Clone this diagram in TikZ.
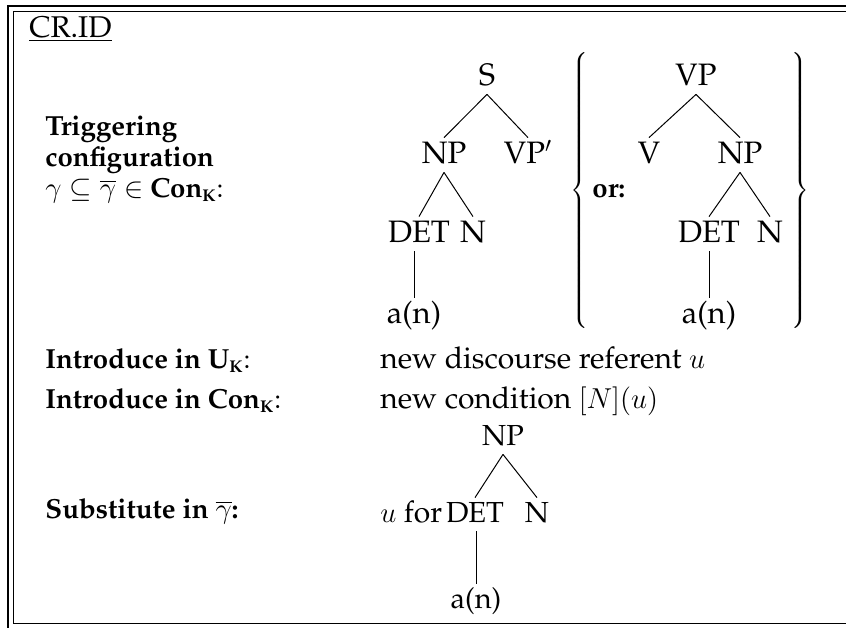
\documentclass[tikz,border=0pt]{standalone}
\usepackage[T1]{fontenc}
\renewcommand{\rmdefault}{ppl}
\newcommand{\subK}{$_{\mbox{\fontsize{8.5}{10}\selectfont\bfseries K}}$}

\begin{document}
\begin{tikzpicture}[
				x=0.5pt, y=-0.5pt,
				font=\fontsize{15}{15.5}\selectfont,
				cat/.style = {anchor=base, inner sep=2pt, text height=10.5pt, text depth=2.5pt, font=\fontsize{15.5}{17}\selectfont},
				smallcat/.style = {cat, text height=10pt, font=\fontsize{14.5}{16}\selectfont},
				lbl/.style = {anchor=base west, inner sep=0pt},
				head/.style = {lbl, font=\fontsize{13.8}{15.5}\selectfont},
				branch/.style = {line width=0.5pt},
				bigbrace/.style = {inner sep=0pt, font=\fontsize{20}{24}\selectfont},
			]
			\path[use as bounding box] (0,0) rectangle (846,628);
			\draw[line width=0.7pt] (846,6) -- (8,6) -- (8,628);
			\draw[line width=0.5pt] (846,11.5) -- (13,11.5) -- (13,623) -- (846,623);

			\node[lbl] (title) at (29,37) {\underline{CR.ID}};
			\node[head, align=left] (trigger) at (45,197) {\textbf{Triggering}\\ \textbf{configuration}\\ $\gamma \subseteq \overline{\gamma} \in$ \textbf{Con}\subK:};
			\node[head] (introU) at (45,368) {\textbf{Introduce in U}\subK:};
			\node[head] (introCon) at (45,408) {\textbf{Introduce in Con}\subK:};
			\node[head] (subst) at (45,518) {\textbf{Substitute in $\overline{\gamma}$:}};
			\node[lbl] (newref) at (380,368) {new discourse referent $u$};
			\node[lbl] (newcond) at (380,408) {new condition $[N](u)$};
			\node[lbl] (ufor) at (380,522) {$u$ for};

			\node[cat] (S) at (487,85) {S};
			\node[cat] (NPa) at (444,163) {NP};
			\node[cat] (VPp) at (528,163) {VP$'$};
			\node[cat] (DETa) at (419,242) {DET};
			\node[cat] (Na) at (473,242) {N};
			\node[cat] (ana) at (414,323) {a(n)};
			\draw[branch] (S.south) -- (NPa.north);
			\draw[branch] (S.south) -- (VPp.north);
			\draw[branch] (NPa.south) -- (DETa.north);
			\draw[branch] (NPa.south) -- (Na.north);
			\draw[branch] (ana.north |- DETa.south) -- (ana.north);

			\node[bigbrace] (lbrace) at (581,190) {$\left\{\vcenter{\hrule height 143pt width 0pt}\right.$};
			\node[head] (or) at (592,197) {\textbf{or:}};
			\node[bigbrace] (rbrace) at (799,190) {$\left.\vcenter{\hrule height 143pt width 0pt}\right\}$};

			\node[cat] (VP) at (696,85) {VP};
			\node[cat] (V) at (649,163) {V};
			\node[cat] (NPb) at (740,163) {NP};
			\node[cat] (DETb) at (709,242) {DET};
			\node[cat] (Nb) at (770,242) {N};
			\node[cat] (anb) at (709,323) {a(n)};
			\draw[branch] (VP.south) -- (V.north);
			\draw[branch] (VP.south) -- (NPb.north);
			\draw[branch] (NPb.south) -- (DETb.north);
			\draw[branch] (NPb.south) -- (Nb.north);
			\draw[branch] (anb.north |- DETb.south) -- (anb.north);

			\node[smallcat] (NPc) at (503,445) {NP};
			\node[smallcat] (DETc) at (475,522) {DET};
			\node[smallcat] (Nc) at (537,522) {N};
			\node[smallcat] (anc) at (476,608) {a(n)};
			\draw[branch] (NPc.south) -- (DETc.north);
			\draw[branch] (NPc.south) -- (Nc.north);
			\draw[branch] (anc.north |- DETc.south) -- (anc.north);
		\end{tikzpicture}
\end{document}
